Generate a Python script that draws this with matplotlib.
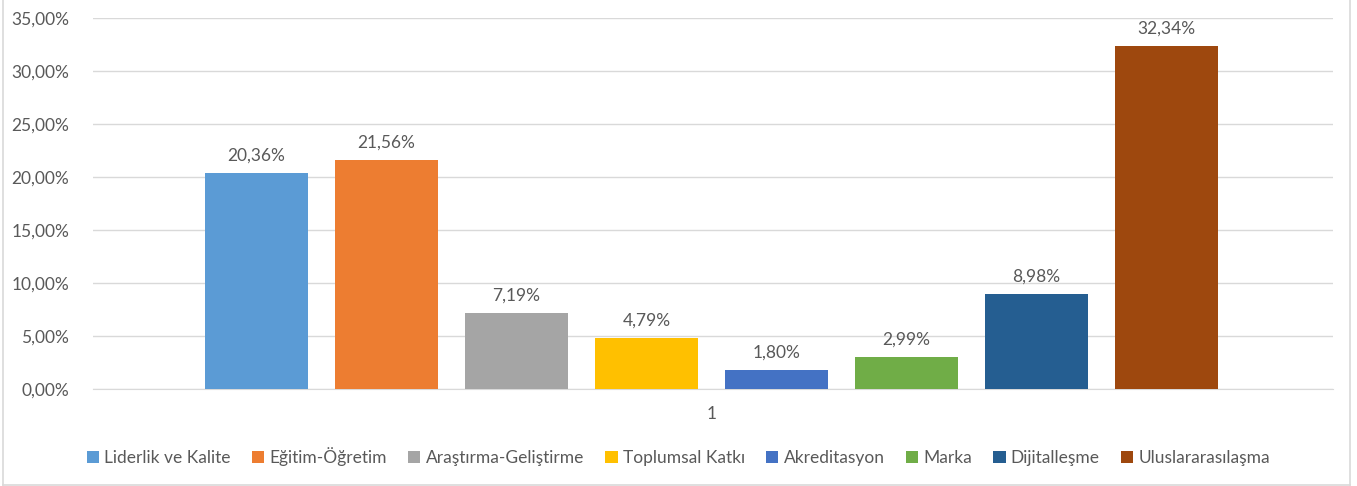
import matplotlib.pyplot as plt
from matplotlib.lines import Line2D
from matplotlib.ticker import FuncFormatter

categories = ["Liderlik ve Kalite", "Eğitim-Öğretim", "Araştırma-Geliştirme", "Toplumsal Katkı",
              "Akreditasyon", "Marka", "Dijitalleşme", "Uluslararasılaşma"]
values = [20.36, 21.56, 7.19, 4.79, 1.80, 2.99, 8.98, 32.34]
colors = ["#5B9BD5", "#ED7D31", "#A5A5A5", "#FFC000", "#4472C4", "#70AD47", "#255E91", "#9E480E"]
yticks = [0, 5, 10, 15, 20, 25, 30, 35]

plt.rcParams['font.family'] = ['Lato', 'DejaVu Sans']
text_color = "#595959"
fs = 12.5

W, H = 1357, 486
fig = plt.figure(figsize=(W / 100, H / 100), dpi=100)
ax = fig.add_axes([93 / W, 1 - 389 / H, (1333 - 93) / W, (389 - 18) / H])

x = list(range(len(values)))
bars = ax.bar(x, values, width=0.79, color=colors, label=categories, zorder=3)
for xi, v in zip(x, values):
    ax.text(xi, v + 0.9, f"{v:.2f}%".replace(".", ","), ha="center", va="bottom",
            fontsize=fs, color=text_color)

ax.set_ylim(0, 35)
ax.set_yticks(yticks)
ax.yaxis.set_major_formatter(FuncFormatter(lambda v, p: f"{v:.2f}%".replace(".", ",")))
ax.set_xlim(-1.258, 8.28)
ax.set_xticks([3.5])
ax.set_xticklabels(["1"])
ax.tick_params(axis="both", length=0, labelsize=fs, colors=text_color)
ax.tick_params(axis="y", pad=17)
ax.tick_params(axis="x", pad=12)
ax.grid(axis="y", color="#D9D9D9", linewidth=1, zorder=0)
for side in ["top", "right", "left"]:
    ax.spines[side].set_visible(False)
ax.spines["bottom"].set_color("#D9D9D9")

fig.legend(handles=list(bars), labels=categories, loc="center", bbox_to_anchor=(0.5, 1 - 457 / H),
           ncol=8, frameon=False, fontsize=fs, labelcolor=text_color,
           handlelength=0.7, handleheight=0.7, handletextpad=0.3, columnspacing=1.23)

# chart area border
bc = "#D9D9D9"
fig.add_artist(Line2D([3 / W, 3 / W], [0.003, 1], color=bc, lw=1.2, transform=fig.transFigure))
fig.add_artist(Line2D([1350 / W, 1350 / W], [0.003, 1], color=bc, lw=1.2, transform=fig.transFigure))
fig.add_artist(Line2D([3 / W, 1350 / W], [0.003, 0.003], color=bc, lw=1.2, transform=fig.transFigure))

fig.savefig("out.png", dpi=100, facecolor="white")
plt.close(fig)
